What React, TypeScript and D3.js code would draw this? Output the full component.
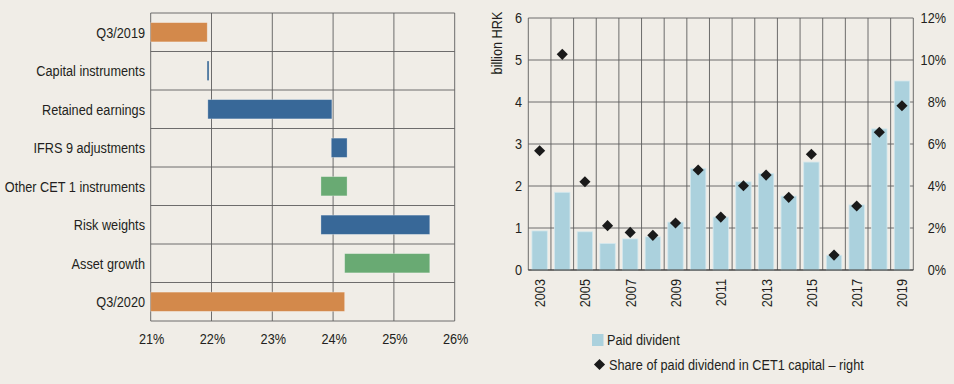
import * as d3 from "d3";

// left chart: CET1 ratio decomposition (floating bars, % values)
const steps = [
  "Q3/2019",
  "Capital instruments",
  "Retained earnings",
  "IFRS 9 adjustments",
  "Other CET 1 instruments",
  "Risk weights",
  "Asset growth",
  "Q3/2020",
];
const stepFrom = [21, 21.93, 21.94, 23.97, 23.8, 23.8, 24.19, 21];
const stepTo = [21.93, 21.945, 23.98, 24.23, 24.23, 25.59, 25.59, 24.19];
const stepKind = ["total", "blue", "blue", "blue", "green", "blue", "green", "total"];
const pctTicks = [21, 22, 23, 24, 25, 26];

// right chart: dividends
const years = [
  2003, 2004, 2005, 2006, 2007, 2008, 2009, 2010, 2011, 2012, 2013, 2014,
  2015, 2016, 2017, 2018, 2019,
];
const paidDividend = [
  0.93, 1.85, 0.91, 0.63, 0.74, 0.79, 1.14, 2.42, 1.26, 2.1, 2.3, 1.76, 2.57,
  0.35, 1.55, 3.36, 4.5,
];
const shareInCet1 = [
  5.68, 10.27, 4.2, 2.11, 1.79, 1.65, 2.24, 4.76, 2.52, 4.01, 4.52, 3.46, 5.51,
  0.71, 3.05, 6.56, 7.82,
];
const leftTicks = [0, 1, 2, 3, 4, 5, 6];
const rightTicks = [0, 2, 4, 6, 8, 10, 12];

const BG = "#f0ede7";
const GRID = "#5e5e5e";
const TEXT = "#231f20";
const FONT = "'Liberation Sans', Arial, sans-serif";
const FS = 15.5;
const NARROW = 0.82; // squeeze Arial into an Arial Narrow look
const kindColor: { [k: string]: string } = {
  total: "#d3894b",
  blue: "#386898",
  green: "#69aa73",
};

// narrow text helper
function T(props: {
  x: number;
  y: number;
  anchor?: string;
  rotate?: number;
  children: any;
}) {
  const { x, y, anchor = "start", rotate = 0, children } = props;
  return (
    <text
      transform={`translate(${x},${y}) rotate(${rotate}) scale(${NARROW},1)`}
      dy="0.35em"
      textAnchor={anchor}
      fontSize={FS}
      fill={TEXT}
    >
      {children}
    </text>
  );
}

function Waterfall() {
  const x = d3.scaleLinear().domain([21, 26]).range([150.7, 454.7]);
  const y = d3.scaleBand().domain(steps).range([13, 321]).paddingInner(0).paddingOuter(0);
  const bh = y.bandwidth() * 0.5;
  return (
    <g>
      {steps.map((s, i) => (
        <line
          key={"h" + i}
          x1={x(21)}
          x2={x(26)}
          y1={y(s)!}
          y2={y(s)!}
          stroke={GRID}
          strokeWidth={0.9}
        />
      ))}
      <line x1={x(21)} x2={x(26)} y1={321} y2={321} stroke={GRID} strokeWidth={0.9} />
      {pctTicks.map((t) => (
        <g key={"v" + t}>
          <line x1={x(t)} x2={x(t)} y1={13} y2={321} stroke={GRID} strokeWidth={0.9} />
          <T x={x(t) + 1} y={339} anchor="middle">
            {t}%
          </T>
        </g>
      ))}
      {steps.map((s, i) => {
        const a = Math.min(stepFrom[i], stepTo[i]);
        const b = Math.max(stepFrom[i], stepTo[i]);
        const cy = y(s)! + y.bandwidth() / 2;
        return (
          <g key={"b" + i}>
            <rect
              x={x(a)}
              y={cy - bh / 2}
              width={Math.max(1.6, x(b) - x(a))}
              height={bh}
              fill={kindColor[stepKind[i]]}
              stroke="#ffffff"
              strokeOpacity={x(b) - x(a) < 3 ? 0 : 0.35}
              strokeWidth={0.8}
            />
            <T x={145} y={cy} anchor="end">
              {s}
            </T>
          </g>
        );
      })}
    </g>
  );
}

function Dividends() {
  const x = d3
    .scaleBand<number>()
    .domain(years)
    .range([528.3, 913.3])
    .paddingInner(0.32)
    .paddingOuter(0.16);
  const step = x.step();
  const yl = d3.scaleLinear().domain([0, 6]).range([270, 18]);
  const yr = d3.scaleLinear().domain([0, 12]).range([270, 18]);
  const d = d3.symbol(d3.symbolSquare, 62)()!;
  return (
    <g>
      {leftTicks.map((t) => (
        <g key={"h" + t}>
          <line x1={528.3} x2={913.3} y1={yl(t)} y2={yl(t)} stroke={GRID} strokeWidth={0.9} />
          <T x={522} y={yl(t)} anchor="end">
            {t}
          </T>
        </g>
      ))}
      {rightTicks.map((t) => (
        <T key={"r" + t} x={946} y={yr(t)} anchor="end">
          {t}%
        </T>
      ))}
      {years.map((yr0, i) => (
        <line
          key={"v" + yr0}
          x1={528.3 + step * i}
          x2={528.3 + step * i}
          y1={18}
          y2={270}
          stroke={GRID}
          strokeWidth={0.9}
        />
      ))}
      <line x1={913.3} x2={913.3} y1={18} y2={270} stroke={GRID} strokeWidth={0.9} />
      {years.map((yv, i) => (
        <rect
          key={"b" + yv}
          x={x(yv)!}
          y={yl(paidDividend[i])}
          width={x.bandwidth()}
          height={yl(0) - yl(paidDividend[i])}
          fill="#abd1dd"
          stroke="#d4e8ee"
          strokeWidth={0.8}
        />
      ))}
      <line x1={528.3} x2={913.3} y1={270} y2={270} stroke="#333" strokeWidth={1.2} />
      {years.map((yv, i) => (
        <path
          key={"d" + yv}
          d={d}
          transform={`translate(${x(yv)! + x.bandwidth() / 2},${yr(shareInCet1[i])}) rotate(45)`}
          fill="#1a1a1a"
        />
      ))}
      {years
        .filter((yv) => yv % 2 === 1)
        .map((yv) => (
          <T key={"t" + yv} x={x(yv)! + x.bandwidth() / 2} y={279} anchor="end" rotate={-90}>
            {yv}
          </T>
        ))}
      <T x={497} y={43} anchor="middle" rotate={-90}>
        billion HRK
      </T>
      <rect x={592} y={334} width={11.5} height={12} fill="#abd1dd" />
      <T x={607} y={340}>
        Paid divident
      </T>
      <path d={d} transform="translate(599.5,364.5) rotate(45)" fill="#1a1a1a" />
      <T x={609} y={364.5}>
        Share of paid dividend in CET1 capital – right
      </T>
    </g>
  );
}

export default function App() {
  return (
    <svg
      width={954}
      height={384}
      style={{ position: "absolute", left: 0, top: 0, background: BG }}
      fontFamily={FONT}
    >
      <rect width={954} height={384} fill={BG} />
      <Waterfall />
      <Dividends />
    </svg>
  );
}
